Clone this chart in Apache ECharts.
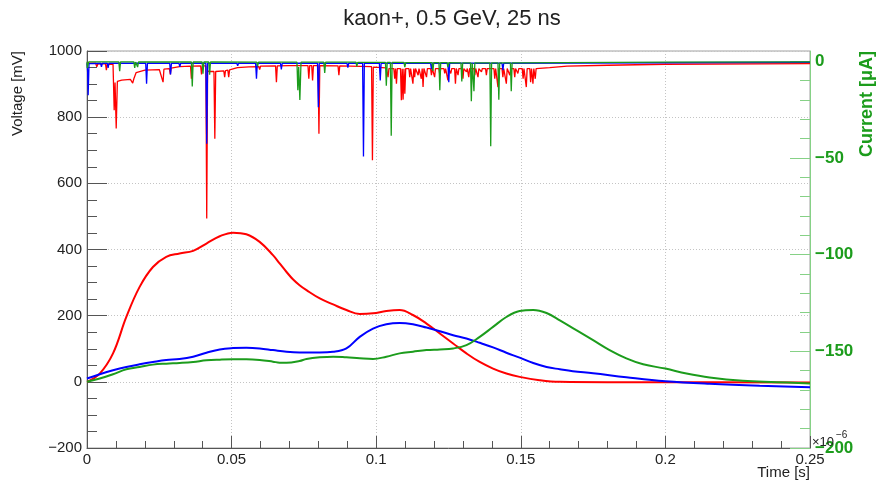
<!DOCTYPE html>
<html>
<head>
<meta charset="utf-8">
<script src="https://cdn.jsdelivr.net/npm/echarts@6/dist/echarts.min.js"></script>
<style>
  html, body { margin: 0; padding: 0; background: #ffffff; }
  #chart { width: 877px; height: 484px; }
</style>
</head>
<body>
<div id="chart"></div>
<script>
// ---- chart text ----
const titleText = 'kaon+, 0.5 GeV, 25 ns';
const timeTitle = 'Time [s]';
const voltageTitle = 'Voltage [mV]';
const currentTitle = 'Current [\u03bcA]';
const timeExponent = ['\u00d710', '\u22126'];

// ---- axis ticks ----
const timeTicks = [0, 0.05, 0.1, 0.15, 0.2, 0.25];
const voltageTicks = [-200, 0, 200, 400, 600, 800, 1000];
const currentTicks = [-200, -150, -100, -50, 0];
const currentMinorTicks = [-190, -180, -170, -160, -140, -130, -120, -110, -90, -80, -70, -60, -40, -30, -20, -10];
const currentRange = [-200, 5.3];

// ---- red channel voltage trace [s, mV] ----
const redTrace = [
  [0, 963], [0.0030, 963], [0.0034, 952], [0.0038, 962], [0.0064, 961], [0.0067, 942], [0.0070, 960],
  [0.0090, 960], [0.0094, 821], [0.0097, 905], [0.0101, 766], [0.0105, 908], [0.0120, 912],
  [0.0150, 914], [0.0158, 903], [0.0162, 916], [0.0170, 935], [0.0200, 942], [0.0250, 944],
  [0.0263, 906], [0.0266, 945], [0.0285, 947], [0.0288, 929], [0.0291, 948], [0.0320, 953],
  [0.0358, 954], [0.0361, 916], [0.0364, 954], [0.0393, 955], [0.0396, 929], [0.0399, 955],
  [0.0411, 955], [0.0414, 494], [0.0417, 940], [0.0424, 938], [0.0439, 938], [0.0442, 735],
  [0.0445, 938], [0.0473, 940], [0.0476, 921], [0.0479, 941], [0.0487, 942], [0.0490, 921],
  [0.0493, 943], [0.0520, 950], [0.0560, 952], [0.0594, 953], [0.0597, 944], [0.0600, 954],
  [0.0652, 955], [0.0655, 906], [0.0658, 955], [0.0700, 956], [0.0764, 956], [0.0767, 916],
  [0.0770, 956], [0.0777, 956], [0.0780, 911], [0.0783, 956], [0.0799, 956], [0.0802, 750],
  [0.0805, 956], [0.0868, 955], [0.0871, 927], [0.0874, 955], [0.0984, 953], [0.0987, 670],
  [0.0990, 951], [0.1035, 949], [0.1038, 947], [0.1041, 921], [0.1044, 947], [0.1061, 947],
  [0.1064, 916], [0.1067, 947], [0.1070, 901], [0.1073, 947], [0.1084, 947], [0.1087, 851],
  [0.1090, 946], [0.1093, 853], [0.1096, 946], [0.1099, 871], [0.1102, 947], [0.1113, 947],
  [0.1116, 921], [0.1119, 947], [0.1124, 947], [0.1127, 901], [0.1130, 947], [0.1133, 921],
  [0.1136, 947], [0.1142, 947], [0.1145, 927], [0.1148, 947], [0.1153, 947], [0.1156, 916],
  [0.1159, 947], [0.1162, 891], [0.1165, 947], [0.1171, 947], [0.1174, 921], [0.1177, 947],
  [0.1188, 947], [0.1191, 927], [0.1194, 947], [0.1199, 947], [0.1202, 921], [0.1205, 947],
  [0.1217, 947], [0.1220, 927], [0.1223, 947], [0.1234, 947], [0.1237, 932], [0.1240, 947],
  [0.1245, 947], [0.1248, 911], [0.1251, 947], [0.1255, 947], [0.1258, 932], [0.1261, 947],
  [0.1271, 947], [0.1274, 901], [0.1277, 947], [0.1280, 947], [0.1283, 927], [0.1286, 947],
  [0.1297, 947], [0.1300, 916], [0.1303, 947], [0.1309, 947], [0.1312, 937], [0.1315, 947],
  [0.1317, 947], [0.1320, 921], [0.1323, 947], [0.1338, 947], [0.1341, 927], [0.1344, 947],
  [0.1349, 947], [0.1352, 921], [0.1355, 947], [0.1361, 947], [0.1364, 937], [0.1367, 947],
  [0.1378, 947], [0.1381, 927], [0.1384, 947], [0.1407, 947], [0.1410, 916], [0.1413, 947],
  [0.1418, 947], [0.1421, 891], [0.1424, 947], [0.1435, 947], [0.1438, 921], [0.1441, 947],
  [0.1447, 947], [0.1450, 901], [0.1453, 947], [0.1459, 947], [0.1462, 927], [0.1465, 947],
  [0.1476, 947], [0.1479, 921], [0.1482, 947], [0.1487, 947], [0.1490, 932], [0.1493, 947],
  [0.1505, 947], [0.1508, 916], [0.1511, 947], [0.1516, 947], [0.1519, 891], [0.1522, 947],
  [0.1531, 947], [0.1534, 906], [0.1537, 947], [0.1539, 947], [0.1542, 901], [0.1545, 947],
  [0.1547, 947], [0.1550, 916], [0.1553, 947], [0.1600, 950], [0.1660, 954], [0.1800, 957],
  [0.2000, 960], [0.2500, 962]
];

// ---- blue channel voltage trace [s, mV] ----
const blueTrace = [
  [0, 963], [0.0002, 940], [0.0004, 866], [0.0007, 962], [0.0047, 963], [0.0050, 952], [0.0053, 963],
  [0.0070, 963], [0.0073, 949], [0.0076, 963], [0.0203, 963], [0.0206, 901], [0.0209, 963],
  [0.0286, 963], [0.0289, 929], [0.0292, 963], [0.0318, 963], [0.0321, 952], [0.0324, 963],
  [0.0411, 963], [0.0414, 720], [0.0417, 963], [0.0518, 963], [0.0521, 955], [0.0524, 963],
  [0.0583, 963], [0.0586, 916], [0.0589, 963], [0.0669, 963], [0.0672, 944], [0.0675, 963],
  [0.0797, 963], [0.0800, 830], [0.0803, 963], [0.0899, 963], [0.0902, 950], [0.0905, 963],
  [0.0953, 963], [0.0956, 681], [0.0959, 963], [0.1011, 963], [0.1014, 911], [0.1017, 963],
  [0.1188, 963], [0.1191, 945], [0.1194, 963], [0.1248, 963], [0.1251, 906], [0.1254, 963],
  [0.1435, 963], [0.1438, 942], [0.1441, 963], [0.2500, 966]
];

// ---- green channel current trace [s, uA] ----
const greenTrace = [
  [0, -0.3], [0.0001, -3.5], [0.0006, -0.3], [0.0110, -0.3], [0.0113, -5.2], [0.0116, -0.3],
  [0.0162, -0.3], [0.0165, -3.5], [0.0168, -0.4], [0.0172, -0.4], [0.0175, -3], [0.0178, -0.4],
  [0.0361, -0.4], [0.0364, -13], [0.0367, -0.4], [0.0398, -0.4], [0.0401, -6.5], [0.0404, -0.4],
  [0.0421, -0.4], [0.0424, -7], [0.0427, -0.4], [0.0587, -0.5], [0.0590, -2.5], [0.0593, -0.5],
  [0.0726, -0.5], [0.0729, -15], [0.0732, -3], [0.0736, -20], [0.0740, -0.5], [0.0819, -0.5],
  [0.0822, -6], [0.0825, -0.5], [0.0930, -0.5], [0.0933, -2.6], [0.0936, -0.6], [0.1032, -0.6],
  [0.1035, -12.6], [0.1038, -0.6], [0.1049, -0.6], [0.1052, -38.5], [0.1055, -0.6], [0.1096, -0.6],
  [0.1099, -3], [0.1102, -0.7], [0.1193, -0.7], [0.1196, -5], [0.1199, -0.7], [0.1217, -0.7],
  [0.1220, -15], [0.1223, -0.7], [0.1245, -0.7], [0.1248, -3], [0.1251, -0.7], [0.1293, -0.8],
  [0.1296, -10.4], [0.1299, -0.8], [0.1326, -0.8], [0.1329, -20.7], [0.1332, -0.8], [0.1335, -0.8],
  [0.1338, -15.5], [0.1341, -0.8], [0.1393, -0.8], [0.1396, -44], [0.1399, -0.8], [0.1421, -0.8],
  [0.1424, -19.9], [0.1427, -0.8], [0.1464, -0.8], [0.1467, -15.5], [0.1470, -0.8], [0.2000, -0.5],
  [0.2500, -0.3]
];

// ---- integrated pulse shapes [s, mV] ----
const redPulse = [
  [0, 0], [0.0044, 25], [0.009, 86], [0.0136, 196], [0.0182, 287], [0.0228, 347], [0.0274, 378],
  [0.032, 388], [0.0367, 396], [0.0413, 418], [0.0459, 440], [0.0505, 451], [0.0551, 446],
  [0.0597, 423], [0.0643, 383], [0.0666, 358], [0.069, 332], [0.0712, 310], [0.0735, 292],
  [0.0759, 277], [0.0805, 252], [0.0851, 234], [0.0897, 217], [0.0943, 205], [0.0989, 207],
  [0.1035, 214], [0.1081, 217], [0.1127, 202], [0.1174, 176], [0.122, 146], [0.1266, 116],
  [0.1312, 86], [0.1358, 60], [0.1404, 40], [0.145, 25], [0.1496, 15], [0.1565, 5], [0.1635, 0],
  [0.18, -1], [0.2, -1], [0.25, -2]
];
const bluePulse = [
  [0, 10], [0.0044, 23], [0.009, 35], [0.0136, 45], [0.0182, 53], [0.0228, 60], [0.0274, 66],
  [0.032, 69], [0.0367, 76], [0.0413, 88], [0.0459, 98], [0.0505, 102], [0.0551, 103],
  [0.0597, 101], [0.0643, 96], [0.069, 91], [0.0735, 89], [0.0805, 89], [0.0851, 91],
  [0.0897, 101], [0.0943, 136], [0.0989, 161], [0.1035, 174], [0.1081, 178], [0.1127, 174],
  [0.1174, 164], [0.122, 153], [0.1266, 141], [0.1312, 131], [0.1358, 118], [0.1404, 104],
  [0.145, 88], [0.1496, 73], [0.1543, 57], [0.1589, 45], [0.1635, 38], [0.168, 32], [0.175, 26],
  [0.1865, 14], [0.2, 2], [0.2153, -6], [0.2326, -12], [0.25, -16]
];
const greenPulse = [
  [0, 0], [0.0044, 10], [0.009, 23], [0.0136, 38], [0.0182, 45], [0.0228, 52], [0.0274, 55],
  [0.032, 57], [0.0367, 60], [0.0413, 65], [0.0459, 67], [0.0505, 68], [0.0551, 68],
  [0.0597, 66], [0.0643, 61], [0.0666, 58], [0.069, 58], [0.0735, 63], [0.0759, 69],
  [0.0805, 74], [0.0851, 76], [0.0897, 74], [0.0943, 71], [0.0989, 69], [0.1035, 76],
  [0.1081, 86], [0.1127, 91], [0.1174, 96], [0.122, 98], [0.1266, 101], [0.1312, 111],
  [0.1358, 136], [0.1404, 166], [0.145, 196], [0.1496, 214], [0.1543, 217], [0.1589, 208],
  [0.1635, 186], [0.1692, 156], [0.175, 126], [0.1807, 96], [0.1865, 71], [0.1923, 53],
  [0.2, 40], [0.2073, 25], [0.2153, 13], [0.2268, 3], [0.2384, -1], [0.25, -5]
];

// ---- styling ----
const FONT = "'Liberation Sans', Arial, Helvetica, sans-serif";
const INK = '#222222';
const AXIS = '#555555';
const RED = '#ff0000';
const BLUE = '#0000ff';
const GREEN = '#1c9c1c';
const GREEN_AXIS = '#86d186';
const GRID_LINE = { type: [1, 2], color: '#c4c4c4', width: 1 };

const minus = v => String(v).replace('-', '\u2212');

const chart = echarts.init(document.getElementById('chart'), null, { renderer: 'canvas' });

const traceSeries = (name, data, color, axis, width, smooth) => ({
  name, type: 'line', data, yAxisIndex: axis, showSymbol: false, symbol: 'none',
  smooth: smooth, lineStyle: { color, width }, itemStyle: { color }, emphasis: { disabled: true },
  animation: false
});

chart.setOption({
  animation: false,
  backgroundColor: '#ffffff',
  title: {
    text: titleText, left: 447, top: 3, textAlign: 'center',
    textStyle: { fontFamily: FONT, fontSize: 22, fontWeight: 'normal', color: INK }
  },
  grid: {
    left: 87, right: 67, top: 51, bottom: 36,
    show: true, borderColor: '#a0a0a0', borderWidth: 1, backgroundColor: 'transparent'
  },
  xAxis: {
    type: 'value', min: timeTicks[0], max: timeTicks[timeTicks.length - 1], interval: 0.05,
    axisLine: { show: true, onZero: false, lineStyle: { color: AXIS, width: 1 } },
    axisTick: { show: true, inside: true, length: 12, lineStyle: { color: AXIS } },
    minorTick: { show: true, splitNumber: 5, length: 7, lineStyle: { color: AXIS } },
    axisLabel: {
      margin: 4, fontFamily: FONT, fontSize: 15, color: INK,
      formatter: v => String(Number(v.toFixed(2)))
    },
    splitLine: { show: true, lineStyle: GRID_LINE }
  },
  yAxis: [
    {
      type: 'value', position: 'left',
      min: voltageTicks[0], max: voltageTicks[voltageTicks.length - 1], interval: 200,
      axisLine: { show: true, onZero: false, lineStyle: { color: AXIS, width: 1 } },
      axisTick: { show: true, inside: true, length: 20, lineStyle: { color: AXIS } },
      minorTick: { show: true, splitNumber: 4, length: 10, lineStyle: { color: AXIS } },
      axisLabel: { margin: 5, fontFamily: FONT, fontSize: 15, color: INK, formatter: minus },
      splitLine: { show: true, lineStyle: GRID_LINE }
    },
    {
      type: 'value', position: 'right',
      min: currentRange[0], max: currentRange[1],
      axisLine: { show: true, onZero: false, lineStyle: { color: GREEN_AXIS, width: 1 } },
      axisTick: { show: true, inside: true, length: 20, customValues: currentTicks, lineStyle: { color: GREEN_AXIS } },
      axisLabel: {
        margin: 5, fontFamily: FONT, fontSize: 17, fontWeight: 'bold', color: GREEN,
        customValues: currentTicks, formatter: minus
      },
      splitLine: { show: false }
    },
    {
      type: 'value', position: 'right', offset: 0,
      min: currentRange[0], max: currentRange[1],
      axisLine: { show: false, onZero: false },
      axisTick: { show: true, inside: true, length: 10, customValues: currentMinorTicks, lineStyle: { color: GREEN_AXIS } },
      axisLabel: { show: false },
      splitLine: { show: false }
    }
  ],
  graphic: [
    {
      type: 'text', x: 18, y: 51, rotation: Math.PI / 2,
      style: { text: voltageTitle, font: '15px ' + FONT, fill: INK, align: 'right', verticalAlign: 'middle' }
    },
    {
      type: 'text', x: 867, y: 51, rotation: Math.PI / 2,
      style: { text: currentTitle, font: 'bold 18px ' + FONT, fill: GREEN, align: 'right', verticalAlign: 'middle' }
    },
    {
      type: 'text', x: 810, y: 473,
      style: { text: timeTitle, font: '15px ' + FONT, fill: INK, align: 'right', verticalAlign: 'middle' }
    },
    {
      type: 'text', x: 812, y: 442, z: 100,
      style: { text: timeExponent[0], font: '13px ' + FONT, fill: INK, align: 'left', verticalAlign: 'middle' }
    },
    {
      type: 'text', x: 836, y: 435, z: 100,
      style: { text: timeExponent[1], font: '10px ' + FONT, fill: INK, align: 'left', verticalAlign: 'middle' }
    }
  ],
  series: [
    traceSeries('red trace', redTrace, RED, 0, 1.3, false),
    traceSeries('blue trace', blueTrace, BLUE, 0, 1.3, false),
    traceSeries('green trace', greenTrace, GREEN, 1, 1.3, false),
    traceSeries('red pulse', redPulse, RED, 0, 2, 0.4),
    traceSeries('blue pulse', bluePulse, BLUE, 0, 2, 0.4),
    traceSeries('green pulse', greenPulse, GREEN, 0, 2, 0.4)
  ]
});
</script>
</body>
</html>
